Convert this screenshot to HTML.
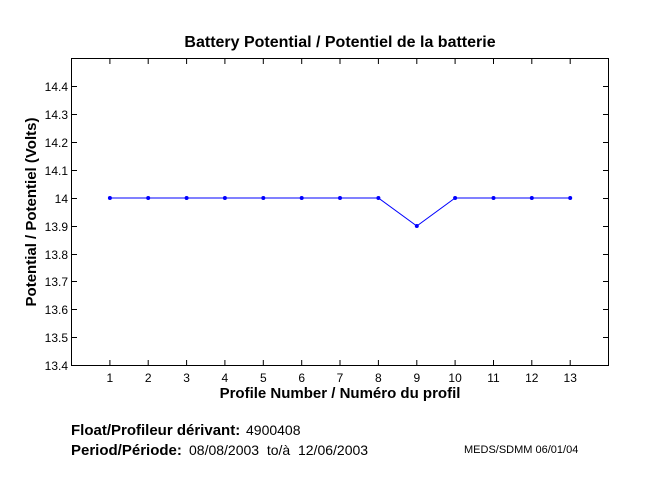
<!DOCTYPE html>
<html><head><style>body{margin:0;background:#fff}svg{display:block}text{font-family:"Liberation Sans",sans-serif}</style></head><body>
<svg width="653" height="480" xmlns="http://www.w3.org/2000/svg">
<rect width="653" height="480" fill="#fff"/>
<text x="340" y="47" font-size="16" font-weight="bold" text-anchor="middle">Battery Potential / Potentiel de la batterie</text>
<rect x="71.5" y="58.5" width="537" height="307" fill="none" stroke="#000" stroke-width="1"/>
<g stroke="#000" stroke-width="1">
<path d="M109.9 365v-5M148.2 365v-5M186.6 365v-5M224.9 365v-5M263.3 365v-5M301.7 365v-5M340 365v-5M378.4 365v-5M416.8 365v-5M455.1 365v-5M493.5 365v-5M531.8 365v-5M570.2 365v-5"/>
<path d="M109.9 59v5M148.2 59v5M186.6 59v5M224.9 59v5M263.3 59v5M301.7 59v5M340 59v5M378.4 59v5M416.8 59v5M455.1 59v5M493.5 59v5M531.8 59v5M570.2 59v5"/>
<path d="M72 86.5h5M72 114.5h5M72 142.5h5M72 170.5h5M72 198.5h5M72 226.5h5M72 254.5h5M72 281.5h5M72 309.5h5M72 337.5h5"/>
<path d="M608 86.5h-5M608 114.5h-5M608 142.5h-5M608 170.5h-5M608 198.5h-5M608 226.5h-5M608 254.5h-5M608 281.5h-5M608 309.5h-5M608 337.5h-5"/>
</g>
<g font-size="12" text-anchor="end">
<text x="68" y="91">14.4</text><text x="68" y="119">14.3</text><text x="68" y="147">14.2</text><text x="68" y="175">14.1</text><text x="68" y="203">14</text><text x="68" y="231">13.9</text><text x="68" y="259">13.8</text><text x="68" y="286">13.7</text><text x="68" y="314">13.6</text><text x="68" y="342">13.5</text><text x="68" y="370">13.4</text>
</g>
<g font-size="12" text-anchor="middle">
<text x="109.9" y="382">1</text><text x="148.2" y="382">2</text><text x="186.6" y="382">3</text><text x="224.9" y="382">4</text><text x="263.3" y="382">5</text><text x="301.7" y="382">6</text><text x="340" y="382">7</text><text x="378.4" y="382">8</text><text x="416.8" y="382">9</text><text x="455.1" y="382">10</text><text x="493.5" y="382">11</text><text x="531.8" y="382">12</text><text x="570.2" y="382">13</text>
</g>
<text x="340" y="398" font-size="15" font-weight="bold" text-anchor="middle">Profile Number / Numéro du profil</text>
<text transform="translate(36,212) rotate(-90)" font-size="15" font-weight="bold" text-anchor="middle">Potential / Potentiel (Volts)</text>
<polyline fill="none" stroke="#00f" stroke-width="1" points="109.9,198 148.2,198 186.6,198 224.9,198 263.3,198 301.7,198 340,198 378.4,198 416.8,226 455.1,198 493.5,198 531.8,198 570.2,198"/>
<g fill="#00f">
<circle cx="109.9" cy="198" r="2"/><circle cx="148.2" cy="198" r="2"/><circle cx="186.6" cy="198" r="2"/><circle cx="224.9" cy="198" r="2"/><circle cx="263.3" cy="198" r="2"/><circle cx="301.7" cy="198" r="2"/><circle cx="340" cy="198" r="2"/><circle cx="378.4" cy="198" r="2"/><circle cx="416.8" cy="226" r="2"/><circle cx="455.1" cy="198" r="2"/><circle cx="493.5" cy="198" r="2"/><circle cx="531.8" cy="198" r="2"/><circle cx="570.2" cy="198" r="2"/>
</g>
<text x="71" y="435" font-size="15" font-weight="bold">Float/Profileur dérivant:</text>
<text x="246" y="435" font-size="14">4900408</text>
<text x="71" y="455" font-size="15" font-weight="bold">Period/Période:</text>
<text x="189" y="455" font-size="14" xml:space="preserve">08/08/2003  to/à  12/06/2003</text>
<text x="464" y="453" font-size="11">MEDS/SDMM  06/01/04</text>
</svg>
</body></html>
